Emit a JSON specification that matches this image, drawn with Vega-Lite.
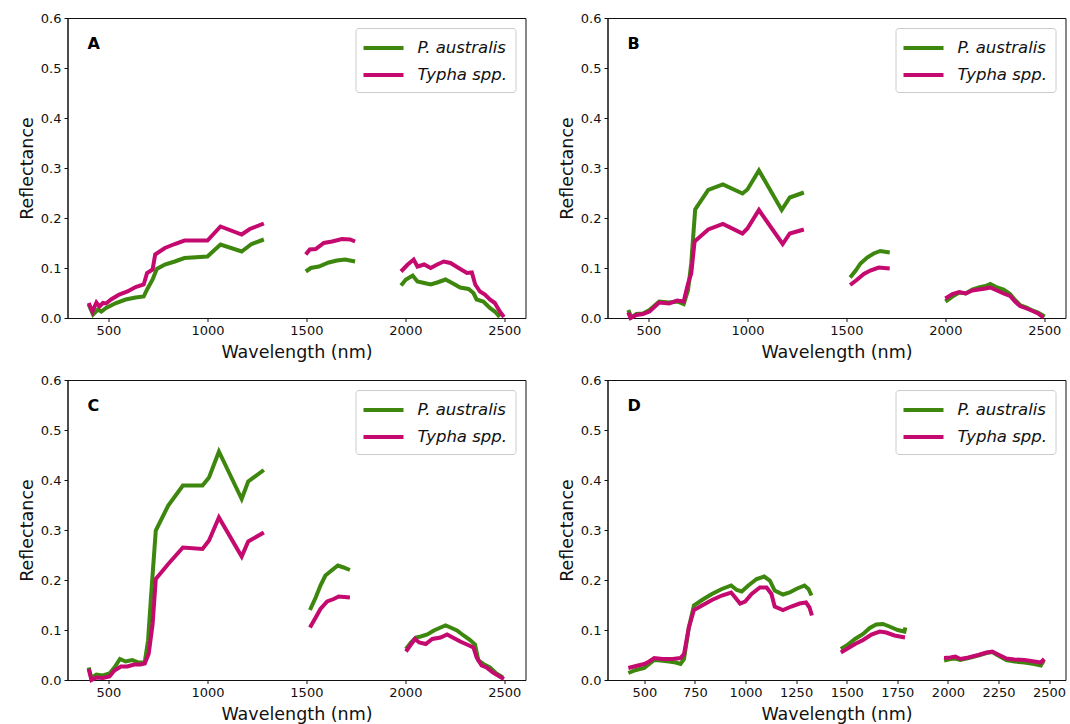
{
"$schema":"https://vega.github.io/schema/vega-lite/v6.json",
"padding":{"left":17.5,"top":11,"right":0,"bottom":0},
"config":{"font":"DejaVu Sans","view":{"stroke":"#111","strokeWidth":1},
"axis":{"grid":false,"labelFontSize":13,"labelColor":"#111","titleFontSize":17.5,"titleFontWeight":"normal","titleColor":"#111","tickColor":"#111","domainColor":"#111","tickSize":3.5,"labelPadding":3,"titlePadding":4,"labelFlush":false,"labelOverlap":false},
"axisX":{"titlePadding":6},
"legend":{"labelFontSize":16.5,"labelColor":"#111","labelFontStyle":"italic"},
"title":{"fontSize":16,"fontWeight":"bold","color":"#000"}},
"data":{"values":[
{"p":"A","s":"P. australis","g":1,"w":400,"r":0.027},{"p":"A","s":"P. australis","g":1,"w":422,"r":0.007},{"p":"A","s":"P. australis","g":1,"w":447,"r":0.017},{"p":"A","s":"P. australis","g":1,"w":464,"r":0.013},{"p":"A","s":"P. australis","g":1,"w":488,"r":0.020},{"p":"A","s":"P. australis","g":1,"w":538,"r":0.030},{"p":"A","s":"P. australis","g":1,"w":587,"r":0.037},{"p":"A","s":"P. australis","g":1,"w":637,"r":0.041},{"p":"A","s":"P. australis","g":1,"w":678,"r":0.043},{"p":"A","s":"P. australis","g":1,"w":695,"r":0.057},{"p":"A","s":"P. australis","g":1,"w":723,"r":0.077},{"p":"A","s":"P. australis","g":1,"w":744,"r":0.098},{"p":"A","s":"P. australis","g":1,"w":785,"r":0.107},{"p":"A","s":"P. australis","g":1,"w":835,"r":0.113},{"p":"A","s":"P. australis","g":1,"w":884,"r":0.120},{"p":"A","s":"P. australis","g":1,"w":1000,"r":0.123},{"p":"A","s":"P. australis","g":1,"w":1066,"r":0.147},{"p":"A","s":"P. australis","g":1,"w":1173,"r":0.133},{"p":"A","s":"P. australis","g":1,"w":1223,"r":0.148},{"p":"A","s":"P. australis","g":1,"w":1285,"r":0.157},
{"p":"A","s":"P. australis","g":2,"w":1497,"r":0.093},{"p":"A","s":"P. australis","g":2,"w":1522,"r":0.100},{"p":"A","s":"P. australis","g":2,"w":1563,"r":0.103},{"p":"A","s":"P. australis","g":2,"w":1613,"r":0.111},{"p":"A","s":"P. australis","g":2,"w":1654,"r":0.115},{"p":"A","s":"P. australis","g":2,"w":1696,"r":0.117},{"p":"A","s":"P. australis","g":2,"w":1746,"r":0.113},
{"p":"A","s":"P. australis","g":3,"w":1978,"r":0.065},{"p":"A","s":"P. australis","g":3,"w":2003,"r":0.077},{"p":"A","s":"P. australis","g":3,"w":2037,"r":0.085},{"p":"A","s":"P. australis","g":3,"w":2061,"r":0.073},{"p":"A","s":"P. australis","g":3,"w":2095,"r":0.070},{"p":"A","s":"P. australis","g":3,"w":2128,"r":0.067},{"p":"A","s":"P. australis","g":3,"w":2161,"r":0.071},{"p":"A","s":"P. australis","g":3,"w":2203,"r":0.077},{"p":"A","s":"P. australis","g":3,"w":2236,"r":0.070},{"p":"A","s":"P. australis","g":3,"w":2277,"r":0.061},{"p":"A","s":"P. australis","g":3,"w":2319,"r":0.058},{"p":"A","s":"P. australis","g":3,"w":2344,"r":0.050},{"p":"A","s":"P. australis","g":3,"w":2360,"r":0.037},{"p":"A","s":"P. australis","g":3,"w":2394,"r":0.033},{"p":"A","s":"P. australis","g":3,"w":2427,"r":0.020},{"p":"A","s":"P. australis","g":3,"w":2452,"r":0.013},{"p":"A","s":"P. australis","g":3,"w":2477,"r":0.002},
{"p":"A","s":"Typha spp.","g":1,"w":400,"r":0.030},{"p":"A","s":"Typha spp.","g":1,"w":419,"r":0.013},{"p":"A","s":"Typha spp.","g":1,"w":439,"r":0.031},{"p":"A","s":"Typha spp.","g":1,"w":455,"r":0.023},{"p":"A","s":"Typha spp.","g":1,"w":472,"r":0.030},{"p":"A","s":"Typha spp.","g":1,"w":488,"r":0.029},{"p":"A","s":"Typha spp.","g":1,"w":513,"r":0.037},{"p":"A","s":"Typha spp.","g":1,"w":554,"r":0.047},{"p":"A","s":"Typha spp.","g":1,"w":596,"r":0.053},{"p":"A","s":"Typha spp.","g":1,"w":637,"r":0.062},{"p":"A","s":"Typha spp.","g":1,"w":678,"r":0.067},{"p":"A","s":"Typha spp.","g":1,"w":695,"r":0.090},{"p":"A","s":"Typha spp.","g":1,"w":723,"r":0.097},{"p":"A","s":"Typha spp.","g":1,"w":736,"r":0.127},{"p":"A","s":"Typha spp.","g":1,"w":785,"r":0.140},{"p":"A","s":"Typha spp.","g":1,"w":835,"r":0.148},{"p":"A","s":"Typha spp.","g":1,"w":884,"r":0.155},{"p":"A","s":"Typha spp.","g":1,"w":1000,"r":0.155},{"p":"A","s":"Typha spp.","g":1,"w":1066,"r":0.183},{"p":"A","s":"Typha spp.","g":1,"w":1173,"r":0.167},{"p":"A","s":"Typha spp.","g":1,"w":1214,"r":0.178},{"p":"A","s":"Typha spp.","g":1,"w":1285,"r":0.189},
{"p":"A","s":"Typha spp.","g":2,"w":1497,"r":0.127},{"p":"A","s":"Typha spp.","g":2,"w":1517,"r":0.137},{"p":"A","s":"Typha spp.","g":2,"w":1547,"r":0.138},{"p":"A","s":"Typha spp.","g":2,"w":1588,"r":0.150},{"p":"A","s":"Typha spp.","g":2,"w":1630,"r":0.153},{"p":"A","s":"Typha spp.","g":2,"w":1679,"r":0.158},{"p":"A","s":"Typha spp.","g":2,"w":1721,"r":0.157},{"p":"A","s":"Typha spp.","g":2,"w":1746,"r":0.153},
{"p":"A","s":"Typha spp.","g":3,"w":1978,"r":0.093},{"p":"A","s":"Typha spp.","g":3,"w":2012,"r":0.107},{"p":"A","s":"Typha spp.","g":3,"w":2042,"r":0.117},{"p":"A","s":"Typha spp.","g":3,"w":2061,"r":0.103},{"p":"A","s":"Typha spp.","g":3,"w":2095,"r":0.107},{"p":"A","s":"Typha spp.","g":3,"w":2128,"r":0.100},{"p":"A","s":"Typha spp.","g":3,"w":2161,"r":0.107},{"p":"A","s":"Typha spp.","g":3,"w":2194,"r":0.113},{"p":"A","s":"Typha spp.","g":3,"w":2228,"r":0.110},{"p":"A","s":"Typha spp.","g":3,"w":2269,"r":0.100},{"p":"A","s":"Typha spp.","g":3,"w":2311,"r":0.090},{"p":"A","s":"Typha spp.","g":3,"w":2336,"r":0.091},{"p":"A","s":"Typha spp.","g":3,"w":2353,"r":0.067},{"p":"A","s":"Typha spp.","g":3,"w":2377,"r":0.053},{"p":"A","s":"Typha spp.","g":3,"w":2402,"r":0.047},{"p":"A","s":"Typha spp.","g":3,"w":2427,"r":0.037},{"p":"A","s":"Typha spp.","g":3,"w":2452,"r":0.030},{"p":"A","s":"Typha spp.","g":3,"w":2477,"r":0.013},{"p":"A","s":"Typha spp.","g":3,"w":2498,"r":0.002},
{"p":"B","s":"P. australis","g":1,"w":398,"r":0.016},{"p":"B","s":"P. australis","g":1,"w":414,"r":0.001},{"p":"B","s":"P. australis","g":1,"w":439,"r":0.008},{"p":"B","s":"P. australis","g":1,"w":472,"r":0.009},{"p":"B","s":"P. australis","g":1,"w":505,"r":0.016},{"p":"B","s":"P. australis","g":1,"w":554,"r":0.033},{"p":"B","s":"P. australis","g":1,"w":604,"r":0.031},{"p":"B","s":"P. australis","g":1,"w":645,"r":0.033},{"p":"B","s":"P. australis","g":1,"w":678,"r":0.028},{"p":"B","s":"P. australis","g":1,"w":700,"r":0.056},{"p":"B","s":"P. australis","g":1,"w":716,"r":0.109},{"p":"B","s":"P. australis","g":1,"w":736,"r":0.217},{"p":"B","s":"P. australis","g":1,"w":802,"r":0.256},{"p":"B","s":"P. australis","g":1,"w":876,"r":0.267},{"p":"B","s":"P. australis","g":1,"w":975,"r":0.249},{"p":"B","s":"P. australis","g":1,"w":1000,"r":0.257},{"p":"B","s":"P. australis","g":1,"w":1058,"r":0.295},{"p":"B","s":"P. australis","g":1,"w":1173,"r":0.216},{"p":"B","s":"P. australis","g":1,"w":1214,"r":0.241},{"p":"B","s":"P. australis","g":1,"w":1285,"r":0.251},
{"p":"B","s":"P. australis","g":2,"w":1519,"r":0.081},{"p":"B","s":"P. australis","g":2,"w":1547,"r":0.095},{"p":"B","s":"P. australis","g":2,"w":1571,"r":0.109},{"p":"B","s":"P. australis","g":2,"w":1605,"r":0.121},{"p":"B","s":"P. australis","g":2,"w":1638,"r":0.129},{"p":"B","s":"P. australis","g":2,"w":1671,"r":0.134},{"p":"B","s":"P. australis","g":2,"w":1719,"r":0.131},
{"p":"B","s":"P. australis","g":3,"w":2000,"r":0.033},{"p":"B","s":"P. australis","g":3,"w":2036,"r":0.043},{"p":"B","s":"P. australis","g":3,"w":2070,"r":0.051},{"p":"B","s":"P. australis","g":3,"w":2103,"r":0.049},{"p":"B","s":"P. australis","g":3,"w":2136,"r":0.057},{"p":"B","s":"P. australis","g":3,"w":2169,"r":0.061},{"p":"B","s":"P. australis","g":3,"w":2203,"r":0.064},{"p":"B","s":"P. australis","g":3,"w":2227,"r":0.068},{"p":"B","s":"P. australis","g":3,"w":2261,"r":0.061},{"p":"B","s":"P. australis","g":3,"w":2294,"r":0.057},{"p":"B","s":"P. australis","g":3,"w":2327,"r":0.048},{"p":"B","s":"P. australis","g":3,"w":2352,"r":0.036},{"p":"B","s":"P. australis","g":3,"w":2377,"r":0.026},{"p":"B","s":"P. australis","g":3,"w":2410,"r":0.021},{"p":"B","s":"P. australis","g":3,"w":2435,"r":0.016},{"p":"B","s":"P. australis","g":3,"w":2468,"r":0.011},{"p":"B","s":"P. australis","g":3,"w":2502,"r":0.003},
{"p":"B","s":"Typha spp.","g":1,"w":398,"r":0.011},{"p":"B","s":"Typha spp.","g":1,"w":409,"r":0.0},{"p":"B","s":"Typha spp.","g":1,"w":439,"r":0.006},{"p":"B","s":"Typha spp.","g":1,"w":472,"r":0.008},{"p":"B","s":"Typha spp.","g":1,"w":505,"r":0.013},{"p":"B","s":"Typha spp.","g":1,"w":554,"r":0.031},{"p":"B","s":"Typha spp.","g":1,"w":604,"r":0.029},{"p":"B","s":"Typha spp.","g":1,"w":645,"r":0.035},{"p":"B","s":"Typha spp.","g":1,"w":678,"r":0.033},{"p":"B","s":"Typha spp.","g":1,"w":700,"r":0.069},{"p":"B","s":"Typha spp.","g":1,"w":716,"r":0.089},{"p":"B","s":"Typha spp.","g":1,"w":733,"r":0.153},{"p":"B","s":"Typha spp.","g":1,"w":802,"r":0.177},{"p":"B","s":"Typha spp.","g":1,"w":876,"r":0.188},{"p":"B","s":"Typha spp.","g":1,"w":975,"r":0.169},{"p":"B","s":"Typha spp.","g":1,"w":1000,"r":0.179},{"p":"B","s":"Typha spp.","g":1,"w":1058,"r":0.216},{"p":"B","s":"Typha spp.","g":1,"w":1178,"r":0.148},{"p":"B","s":"Typha spp.","g":1,"w":1214,"r":0.169},{"p":"B","s":"Typha spp.","g":1,"w":1285,"r":0.177},
{"p":"B","s":"Typha spp.","g":2,"w":1519,"r":0.066},{"p":"B","s":"Typha spp.","g":2,"w":1555,"r":0.077},{"p":"B","s":"Typha spp.","g":2,"w":1588,"r":0.088},{"p":"B","s":"Typha spp.","g":2,"w":1621,"r":0.095},{"p":"B","s":"Typha spp.","g":2,"w":1663,"r":0.101},{"p":"B","s":"Typha spp.","g":2,"w":1719,"r":0.099},
{"p":"B","s":"Typha spp.","g":3,"w":2000,"r":0.039},{"p":"B","s":"Typha spp.","g":3,"w":2036,"r":0.048},{"p":"B","s":"Typha spp.","g":3,"w":2070,"r":0.052},{"p":"B","s":"Typha spp.","g":3,"w":2103,"r":0.049},{"p":"B","s":"Typha spp.","g":3,"w":2136,"r":0.055},{"p":"B","s":"Typha spp.","g":3,"w":2169,"r":0.057},{"p":"B","s":"Typha spp.","g":3,"w":2203,"r":0.059},{"p":"B","s":"Typha spp.","g":3,"w":2227,"r":0.061},{"p":"B","s":"Typha spp.","g":3,"w":2261,"r":0.055},{"p":"B","s":"Typha spp.","g":3,"w":2294,"r":0.049},{"p":"B","s":"Typha spp.","g":3,"w":2327,"r":0.044},{"p":"B","s":"Typha spp.","g":3,"w":2352,"r":0.033},{"p":"B","s":"Typha spp.","g":3,"w":2377,"r":0.024},{"p":"B","s":"Typha spp.","g":3,"w":2410,"r":0.019},{"p":"B","s":"Typha spp.","g":3,"w":2435,"r":0.015},{"p":"B","s":"Typha spp.","g":3,"w":2468,"r":0.009},{"p":"B","s":"Typha spp.","g":3,"w":2495,"r":0.001},
{"p":"C","s":"P. australis","g":1,"w":400,"r":0.025},{"p":"C","s":"P. australis","g":1,"w":414,"r":0.004},{"p":"C","s":"P. australis","g":1,"w":439,"r":0.011},{"p":"C","s":"P. australis","g":1,"w":472,"r":0.009},{"p":"C","s":"P. australis","g":1,"w":505,"r":0.013},{"p":"C","s":"P. australis","g":1,"w":530,"r":0.025},{"p":"C","s":"P. australis","g":1,"w":558,"r":0.042},{"p":"C","s":"P. australis","g":1,"w":587,"r":0.037},{"p":"C","s":"P. australis","g":1,"w":620,"r":0.040},{"p":"C","s":"P. australis","g":1,"w":653,"r":0.035},{"p":"C","s":"P. australis","g":1,"w":683,"r":0.035},{"p":"C","s":"P. australis","g":1,"w":700,"r":0.079},{"p":"C","s":"P. australis","g":1,"w":716,"r":0.172},{"p":"C","s":"P. australis","g":1,"w":739,"r":0.299},{"p":"C","s":"P. australis","g":1,"w":802,"r":0.349},{"p":"C","s":"P. australis","g":1,"w":876,"r":0.389},{"p":"C","s":"P. australis","g":1,"w":975,"r":0.389},{"p":"C","s":"P. australis","g":1,"w":1008,"r":0.405},{"p":"C","s":"P. australis","g":1,"w":1058,"r":0.457},{"p":"C","s":"P. australis","g":1,"w":1173,"r":0.362},{"p":"C","s":"P. australis","g":1,"w":1206,"r":0.397},{"p":"C","s":"P. australis","g":1,"w":1285,"r":0.420},
{"p":"C","s":"P. australis","g":2,"w":1518,"r":0.140},{"p":"C","s":"P. australis","g":2,"w":1547,"r":0.165},{"p":"C","s":"P. australis","g":2,"w":1571,"r":0.189},{"p":"C","s":"P. australis","g":2,"w":1596,"r":0.209},{"p":"C","s":"P. australis","g":2,"w":1630,"r":0.220},{"p":"C","s":"P. australis","g":2,"w":1659,"r":0.229},{"p":"C","s":"P. australis","g":2,"w":1688,"r":0.225},{"p":"C","s":"P. australis","g":2,"w":1720,"r":0.220},
{"p":"C","s":"P. australis","g":3,"w":2003,"r":0.062},{"p":"C","s":"P. australis","g":3,"w":2028,"r":0.075},{"p":"C","s":"P. australis","g":3,"w":2053,"r":0.085},{"p":"C","s":"P. australis","g":3,"w":2078,"r":0.087},{"p":"C","s":"P. australis","g":3,"w":2111,"r":0.091},{"p":"C","s":"P. australis","g":3,"w":2144,"r":0.099},{"p":"C","s":"P. australis","g":3,"w":2178,"r":0.105},{"p":"C","s":"P. australis","g":3,"w":2203,"r":0.109},{"p":"C","s":"P. australis","g":3,"w":2228,"r":0.105},{"p":"C","s":"P. australis","g":3,"w":2261,"r":0.099},{"p":"C","s":"P. australis","g":3,"w":2294,"r":0.089},{"p":"C","s":"P. australis","g":3,"w":2327,"r":0.080},{"p":"C","s":"P. australis","g":3,"w":2352,"r":0.071},{"p":"C","s":"P. australis","g":3,"w":2369,"r":0.039},{"p":"C","s":"P. australis","g":3,"w":2394,"r":0.032},{"p":"C","s":"P. australis","g":3,"w":2427,"r":0.025},{"p":"C","s":"P. australis","g":3,"w":2460,"r":0.013},{"p":"C","s":"P. australis","g":3,"w":2493,"r":0.005},
{"p":"C","s":"Typha spp.","g":1,"w":400,"r":0.022},{"p":"C","s":"Typha spp.","g":1,"w":414,"r":0.0},{"p":"C","s":"Typha spp.","g":1,"w":439,"r":0.005},{"p":"C","s":"Typha spp.","g":1,"w":472,"r":0.004},{"p":"C","s":"Typha spp.","g":1,"w":505,"r":0.007},{"p":"C","s":"Typha spp.","g":1,"w":530,"r":0.019},{"p":"C","s":"Typha spp.","g":1,"w":563,"r":0.027},{"p":"C","s":"Typha spp.","g":1,"w":596,"r":0.027},{"p":"C","s":"Typha spp.","g":1,"w":629,"r":0.031},{"p":"C","s":"Typha spp.","g":1,"w":662,"r":0.031},{"p":"C","s":"Typha spp.","g":1,"w":683,"r":0.033},{"p":"C","s":"Typha spp.","g":1,"w":703,"r":0.052},{"p":"C","s":"Typha spp.","g":1,"w":723,"r":0.112},{"p":"C","s":"Typha spp.","g":1,"w":739,"r":0.202},{"p":"C","s":"Typha spp.","g":1,"w":802,"r":0.232},{"p":"C","s":"Typha spp.","g":1,"w":876,"r":0.265},{"p":"C","s":"Typha spp.","g":1,"w":975,"r":0.262},{"p":"C","s":"Typha spp.","g":1,"w":1008,"r":0.279},{"p":"C","s":"Typha spp.","g":1,"w":1058,"r":0.325},{"p":"C","s":"Typha spp.","g":1,"w":1173,"r":0.247},{"p":"C","s":"Typha spp.","g":1,"w":1206,"r":0.277},{"p":"C","s":"Typha spp.","g":1,"w":1285,"r":0.295},
{"p":"C","s":"Typha spp.","g":2,"w":1518,"r":0.105},{"p":"C","s":"Typha spp.","g":2,"w":1547,"r":0.125},{"p":"C","s":"Typha spp.","g":2,"w":1571,"r":0.142},{"p":"C","s":"Typha spp.","g":2,"w":1605,"r":0.157},{"p":"C","s":"Typha spp.","g":2,"w":1638,"r":0.162},{"p":"C","s":"Typha spp.","g":2,"w":1663,"r":0.167},{"p":"C","s":"Typha spp.","g":2,"w":1720,"r":0.165},
{"p":"C","s":"Typha spp.","g":3,"w":2003,"r":0.057},{"p":"C","s":"Typha spp.","g":3,"w":2028,"r":0.071},{"p":"C","s":"Typha spp.","g":3,"w":2048,"r":0.082},{"p":"C","s":"Typha spp.","g":3,"w":2070,"r":0.075},{"p":"C","s":"Typha spp.","g":3,"w":2103,"r":0.072},{"p":"C","s":"Typha spp.","g":3,"w":2136,"r":0.082},{"p":"C","s":"Typha spp.","g":3,"w":2178,"r":0.085},{"p":"C","s":"Typha spp.","g":3,"w":2211,"r":0.091},{"p":"C","s":"Typha spp.","g":3,"w":2244,"r":0.084},{"p":"C","s":"Typha spp.","g":3,"w":2277,"r":0.077},{"p":"C","s":"Typha spp.","g":3,"w":2311,"r":0.071},{"p":"C","s":"Typha spp.","g":3,"w":2344,"r":0.065},{"p":"C","s":"Typha spp.","g":3,"w":2360,"r":0.045},{"p":"C","s":"Typha spp.","g":3,"w":2385,"r":0.029},{"p":"C","s":"Typha spp.","g":3,"w":2410,"r":0.025},{"p":"C","s":"Typha spp.","g":3,"w":2443,"r":0.015},{"p":"C","s":"Typha spp.","g":3,"w":2468,"r":0.009},{"p":"C","s":"Typha spp.","g":3,"w":2498,"r":0.002},
{"p":"D","s":"P. australis","g":1,"w":421,"r":0.014},{"p":"D","s":"P. australis","g":1,"w":459,"r":0.020},{"p":"D","s":"P. australis","g":1,"w":500,"r":0.024},{"p":"D","s":"P. australis","g":1,"w":524,"r":0.032},{"p":"D","s":"P. australis","g":1,"w":549,"r":0.040},{"p":"D","s":"P. australis","g":1,"w":582,"r":0.039},{"p":"D","s":"P. australis","g":1,"w":622,"r":0.037},{"p":"D","s":"P. australis","g":1,"w":655,"r":0.035},{"p":"D","s":"P. australis","g":1,"w":679,"r":0.032},{"p":"D","s":"P. australis","g":1,"w":696,"r":0.042},{"p":"D","s":"P. australis","g":1,"w":720,"r":0.105},{"p":"D","s":"P. australis","g":1,"w":745,"r":0.149},{"p":"D","s":"P. australis","g":1,"w":785,"r":0.160},{"p":"D","s":"P. australis","g":1,"w":834,"r":0.172},{"p":"D","s":"P. australis","g":1,"w":883,"r":0.182},{"p":"D","s":"P. australis","g":1,"w":929,"r":0.189},{"p":"D","s":"P. australis","g":1,"w":957,"r":0.180},{"p":"D","s":"P. australis","g":1,"w":981,"r":0.177},{"p":"D","s":"P. australis","g":1,"w":1014,"r":0.189},{"p":"D","s":"P. australis","g":1,"w":1055,"r":0.202},{"p":"D","s":"P. australis","g":1,"w":1092,"r":0.207},{"p":"D","s":"P. australis","g":1,"w":1120,"r":0.199},{"p":"D","s":"P. australis","g":1,"w":1144,"r":0.179},{"p":"D","s":"P. australis","g":1,"w":1185,"r":0.171},{"p":"D","s":"P. australis","g":1,"w":1218,"r":0.175},{"p":"D","s":"P. australis","g":1,"w":1250,"r":0.182},{"p":"D","s":"P. australis","g":1,"w":1291,"r":0.189},{"p":"D","s":"P. australis","g":1,"w":1311,"r":0.182},{"p":"D","s":"P. australis","g":1,"w":1326,"r":0.169},
{"p":"D","s":"P. australis","g":2,"w":1471,"r":0.062},{"p":"D","s":"P. australis","g":2,"w":1500,"r":0.069},{"p":"D","s":"P. australis","g":2,"w":1541,"r":0.082},{"p":"D","s":"P. australis","g":2,"w":1581,"r":0.092},{"p":"D","s":"P. australis","g":2,"w":1614,"r":0.104},{"p":"D","s":"P. australis","g":2,"w":1646,"r":0.111},{"p":"D","s":"P. australis","g":2,"w":1679,"r":0.112},{"p":"D","s":"P. australis","g":2,"w":1711,"r":0.107},{"p":"D","s":"P. australis","g":2,"w":1752,"r":0.100},{"p":"D","s":"P. australis","g":2,"w":1785,"r":0.097},{"p":"D","s":"P. australis","g":2,"w":1790,"r":0.105},
{"p":"D","s":"P. australis","g":3,"w":1981,"r":0.039},{"p":"D","s":"P. australis","g":3,"w":2012,"r":0.042},{"p":"D","s":"P. australis","g":3,"w":2037,"r":0.043},{"p":"D","s":"P. australis","g":3,"w":2061,"r":0.040},{"p":"D","s":"P. australis","g":3,"w":2102,"r":0.044},{"p":"D","s":"P. australis","g":3,"w":2150,"r":0.049},{"p":"D","s":"P. australis","g":3,"w":2191,"r":0.054},{"p":"D","s":"P. australis","g":3,"w":2219,"r":0.056},{"p":"D","s":"P. australis","g":3,"w":2248,"r":0.049},{"p":"D","s":"P. australis","g":3,"w":2289,"r":0.040},{"p":"D","s":"P. australis","g":3,"w":2329,"r":0.037},{"p":"D","s":"P. australis","g":3,"w":2378,"r":0.035},{"p":"D","s":"P. australis","g":3,"w":2427,"r":0.032},{"p":"D","s":"P. australis","g":3,"w":2459,"r":0.029},{"p":"D","s":"P. australis","g":3,"w":2474,"r":0.039},
{"p":"D","s":"Typha spp.","g":1,"w":421,"r":0.024},{"p":"D","s":"Typha spp.","g":1,"w":459,"r":0.028},{"p":"D","s":"Typha spp.","g":1,"w":500,"r":0.032},{"p":"D","s":"Typha spp.","g":1,"w":524,"r":0.037},{"p":"D","s":"Typha spp.","g":1,"w":549,"r":0.044},{"p":"D","s":"Typha spp.","g":1,"w":590,"r":0.042},{"p":"D","s":"Typha spp.","g":1,"w":639,"r":0.042},{"p":"D","s":"Typha spp.","g":1,"w":679,"r":0.044},{"p":"D","s":"Typha spp.","g":1,"w":696,"r":0.052},{"p":"D","s":"Typha spp.","g":1,"w":720,"r":0.105},{"p":"D","s":"Typha spp.","g":1,"w":745,"r":0.140},{"p":"D","s":"Typha spp.","g":1,"w":785,"r":0.149},{"p":"D","s":"Typha spp.","g":1,"w":834,"r":0.160},{"p":"D","s":"Typha spp.","g":1,"w":883,"r":0.169},{"p":"D","s":"Typha spp.","g":1,"w":929,"r":0.175},{"p":"D","s":"Typha spp.","g":1,"w":949,"r":0.165},{"p":"D","s":"Typha spp.","g":1,"w":973,"r":0.153},{"p":"D","s":"Typha spp.","g":1,"w":998,"r":0.157},{"p":"D","s":"Typha spp.","g":1,"w":1030,"r":0.172},{"p":"D","s":"Typha spp.","g":1,"w":1071,"r":0.185},{"p":"D","s":"Typha spp.","g":1,"w":1104,"r":0.185},{"p":"D","s":"Typha spp.","g":1,"w":1128,"r":0.172},{"p":"D","s":"Typha spp.","g":1,"w":1144,"r":0.147},{"p":"D","s":"Typha spp.","g":1,"w":1185,"r":0.140},{"p":"D","s":"Typha spp.","g":1,"w":1226,"r":0.147},{"p":"D","s":"Typha spp.","g":1,"w":1267,"r":0.153},{"p":"D","s":"Typha spp.","g":1,"w":1299,"r":0.155},{"p":"D","s":"Typha spp.","g":1,"w":1316,"r":0.145},{"p":"D","s":"Typha spp.","g":1,"w":1328,"r":0.129},
{"p":"D","s":"Typha spp.","g":2,"w":1471,"r":0.055},{"p":"D","s":"Typha spp.","g":2,"w":1500,"r":0.062},{"p":"D","s":"Typha spp.","g":2,"w":1541,"r":0.072},{"p":"D","s":"Typha spp.","g":2,"w":1581,"r":0.080},{"p":"D","s":"Typha spp.","g":2,"w":1622,"r":0.091},{"p":"D","s":"Typha spp.","g":2,"w":1663,"r":0.097},{"p":"D","s":"Typha spp.","g":2,"w":1695,"r":0.095},{"p":"D","s":"Typha spp.","g":2,"w":1736,"r":0.089},{"p":"D","s":"Typha spp.","g":2,"w":1788,"r":0.085},
{"p":"D","s":"Typha spp.","g":3,"w":1981,"r":0.044},{"p":"D","s":"Typha spp.","g":3,"w":2012,"r":0.045},{"p":"D","s":"Typha spp.","g":3,"w":2037,"r":0.047},{"p":"D","s":"Typha spp.","g":3,"w":2061,"r":0.042},{"p":"D","s":"Typha spp.","g":3,"w":2102,"r":0.045},{"p":"D","s":"Typha spp.","g":3,"w":2150,"r":0.050},{"p":"D","s":"Typha spp.","g":3,"w":2191,"r":0.055},{"p":"D","s":"Typha spp.","g":3,"w":2219,"r":0.057},{"p":"D","s":"Typha spp.","g":3,"w":2248,"r":0.051},{"p":"D","s":"Typha spp.","g":3,"w":2289,"r":0.043},{"p":"D","s":"Typha spp.","g":3,"w":2329,"r":0.041},{"p":"D","s":"Typha spp.","g":3,"w":2378,"r":0.040},{"p":"D","s":"Typha spp.","g":3,"w":2427,"r":0.037},{"p":"D","s":"Typha spp.","g":3,"w":2459,"r":0.035},{"p":"D","s":"Typha spp.","g":3,"w":2476,"r":0.042}
]},
"columns":2,
"bounds":"flush",
"spacing":{"row":62,"column":82},
"resolve":{"scale":{"color":"independent","x":"independent","y":"independent"},"legend":{"color":"independent"}},
"concat":[
{"width":458,"height":300,"title":{"text":"A","anchor":"start","frame":"group","offset":-53,"dx":20,"baseline":"alphabetic"},
"transform":[{"filter":"datum.p == 'A'"}],
"mark":{"type":"line","strokeWidth":4,"strokeCap":"butt"},
"encoding":{
"x":{"field":"w","type":"quantitative","scale":{"domain":[293,2607],"nice":false,"zero":false},"axis":{"values":[500,1000,1500,2000,2500],"format":"d","title":"Wavelength (nm)"}},
"y":{"field":"r","type":"quantitative","scale":{"domain":[0,0.6],"nice":false},"axis":{"values":[0,0.1,0.2,0.3,0.4,0.5,0.6],"format":".1f","title":"Reflectance"}},
"color":{"field":"s","type":"nominal","scale":{"domain":["P. australis","Typha spp."],"range":["#3e870e","#c4096f"]},"legend":{"title":null,"orient":"top-right","offset":10,"symbolType":"M-2,0H2","symbolSize":400,"symbolStrokeWidth":4,"padding":8,"rowPadding":6,"symbolOffset":8,"labelOffset":22,"labelExpr":"datum.label + '\u00a0\u00a0'","fillColor":"white","strokeColor":"#cccccc","cornerRadius":3}},
"detail":{"field":"g","type":"nominal"}}},
{"width":458,"height":300,"title":{"text":"B","anchor":"start","frame":"group","offset":-53,"dx":20,"baseline":"alphabetic"},
"transform":[{"filter":"datum.p == 'B'"}],
"mark":{"type":"line","strokeWidth":4,"strokeCap":"butt"},
"encoding":{
"x":{"field":"w","type":"quantitative","scale":{"domain":[293,2607],"nice":false,"zero":false},"axis":{"values":[500,1000,1500,2000,2500],"format":"d","title":"Wavelength (nm)"}},
"y":{"field":"r","type":"quantitative","scale":{"domain":[0,0.6],"nice":false},"axis":{"values":[0,0.1,0.2,0.3,0.4,0.5,0.6],"format":".1f","title":"Reflectance"}},
"color":{"field":"s","type":"nominal","scale":{"domain":["P. australis","Typha spp."],"range":["#3e870e","#c4096f"]},"legend":{"title":null,"orient":"top-right","offset":10,"symbolType":"M-2,0H2","symbolSize":400,"symbolStrokeWidth":4,"padding":8,"rowPadding":6,"symbolOffset":8,"labelOffset":22,"labelExpr":"datum.label + '\u00a0\u00a0'","fillColor":"white","strokeColor":"#cccccc","cornerRadius":3}},
"detail":{"field":"g","type":"nominal"}}},
{"width":458,"height":300,"title":{"text":"C","anchor":"start","frame":"group","offset":-53,"dx":20,"baseline":"alphabetic"},
"transform":[{"filter":"datum.p == 'C'"}],
"mark":{"type":"line","strokeWidth":4,"strokeCap":"butt"},
"encoding":{
"x":{"field":"w","type":"quantitative","scale":{"domain":[293,2607],"nice":false,"zero":false},"axis":{"values":[500,1000,1500,2000,2500],"format":"d","title":"Wavelength (nm)"}},
"y":{"field":"r","type":"quantitative","scale":{"domain":[0,0.6],"nice":false},"axis":{"values":[0,0.1,0.2,0.3,0.4,0.5,0.6],"format":".1f","title":"Reflectance"}},
"color":{"field":"s","type":"nominal","scale":{"domain":["P. australis","Typha spp."],"range":["#3e870e","#c4096f"]},"legend":{"title":null,"orient":"top-right","offset":10,"symbolType":"M-2,0H2","symbolSize":400,"symbolStrokeWidth":4,"padding":8,"rowPadding":6,"symbolOffset":8,"labelOffset":22,"labelExpr":"datum.label + '\u00a0\u00a0'","fillColor":"white","strokeColor":"#cccccc","cornerRadius":3}},
"detail":{"field":"g","type":"nominal"}}},
{"width":458,"height":300,"title":{"text":"D","anchor":"start","frame":"group","offset":-53,"dx":20,"baseline":"alphabetic"},
"transform":[{"filter":"datum.p == 'D'"}],
"mark":{"type":"line","strokeWidth":4,"strokeCap":"butt"},
"encoding":{
"x":{"field":"w","type":"quantitative","scale":{"domain":[318,2581],"nice":false,"zero":false},"axis":{"values":[500,750,1000,1250,1500,1750,2000,2250,2500],"format":"d","title":"Wavelength (nm)"}},
"y":{"field":"r","type":"quantitative","scale":{"domain":[0,0.6],"nice":false},"axis":{"values":[0,0.1,0.2,0.3,0.4,0.5,0.6],"format":".1f","title":"Reflectance"}},
"color":{"field":"s","type":"nominal","scale":{"domain":["P. australis","Typha spp."],"range":["#3e870e","#c4096f"]},"legend":{"title":null,"orient":"top-right","offset":10,"symbolType":"M-2,0H2","symbolSize":400,"symbolStrokeWidth":4,"padding":8,"rowPadding":6,"symbolOffset":8,"labelOffset":22,"labelExpr":"datum.label + '\u00a0\u00a0'","fillColor":"white","strokeColor":"#cccccc","cornerRadius":3}},
"detail":{"field":"g","type":"nominal"}}}
]
}
